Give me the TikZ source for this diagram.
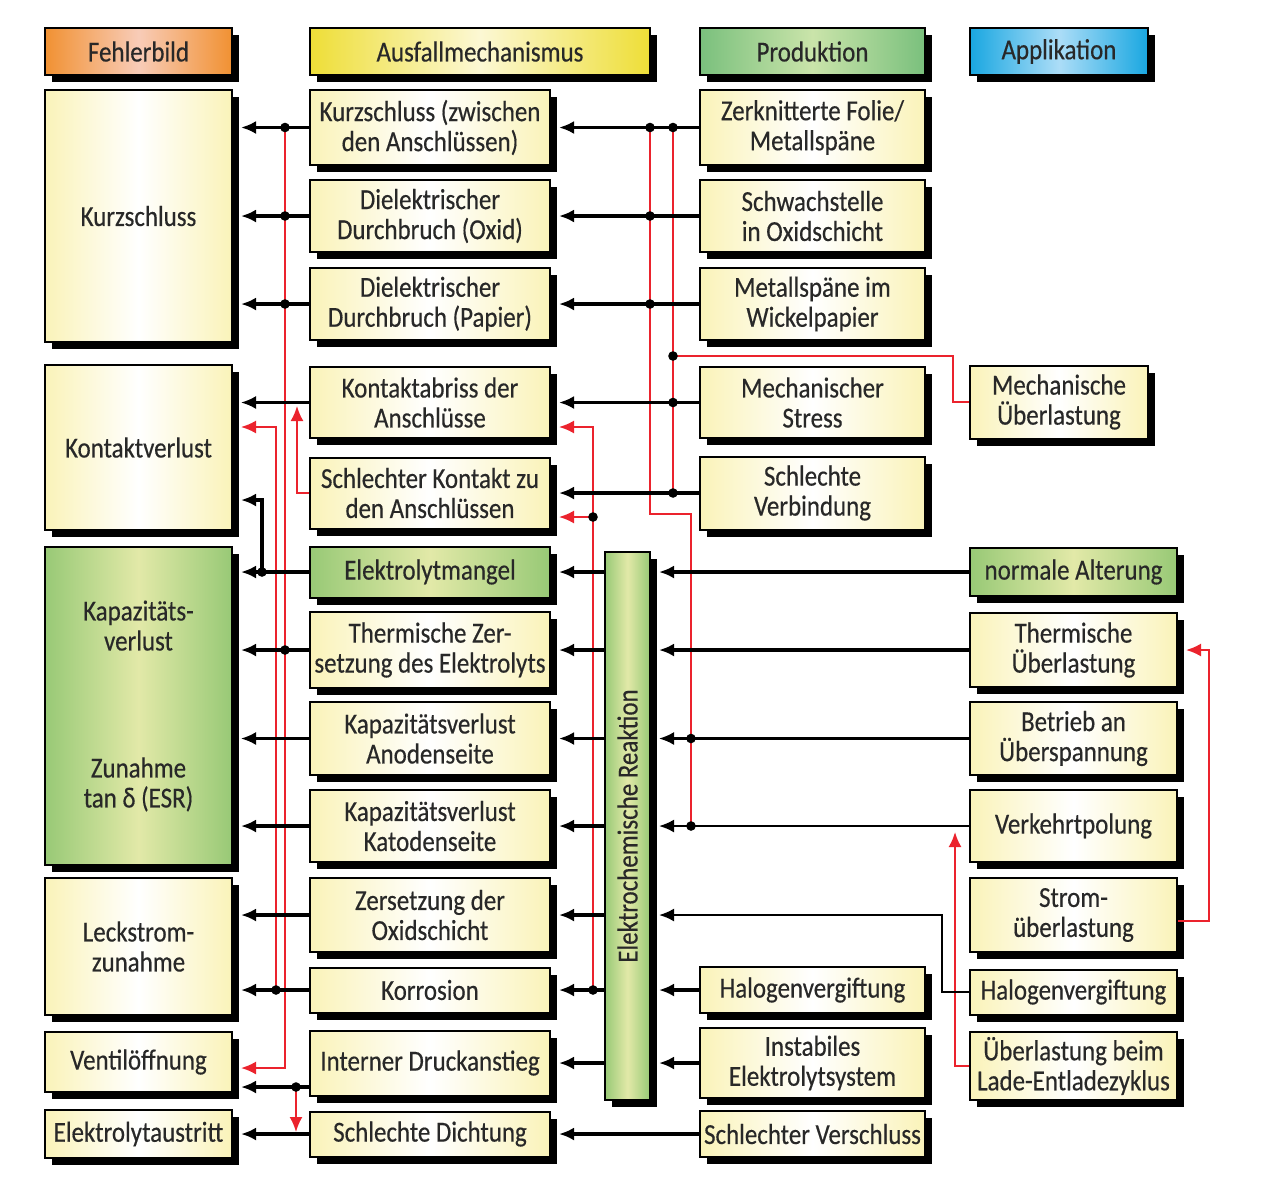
\documentclass[tikz,border=0pt]{standalone}
\usepackage{fontspec}
\setmainfont[FakeStretch=0.86,FakeBold=0.4]{Carlito}
\usetikzlibrary{arrows.meta,shadows,calc}
\definecolor{boxyel}{RGB}{250,243,185}
\definecolor{boxgrn}{RGB}{152,201,118}
\definecolor{boxgrnl}{RGB}{226,233,168}
\definecolor{hdorange}{RGB}{241,145,50}
\definecolor{hdorangel}{RGB}{248,204,184}
\definecolor{hdyel}{RGB}{238,222,55}
\definecolor{hdyell}{RGB}{252,248,212}
\definecolor{hdgrn}{RGB}{122,192,125}
\definecolor{hdgrnl}{RGB}{202,228,170}
\definecolor{hdblue}{RGB}{25,167,225}
\definecolor{hdbluel}{RGB}{172,221,247}
\definecolor{wirered}{RGB}{235,35,45}
\definecolor{txt}{RGB}{40,40,40}
\tikzset{
  box/.style={draw, line width=1pt, align=center, inner sep=1pt, text=txt,
    font=\fontsize{14.5}{15}\selectfont,
    drop shadow={shadow xshift=3.5pt,shadow yshift=-3.5pt,fill=black,opacity=1}},
  ybox/.style={box, left color=boxyel, right color=boxyel, middle color=white},
  gbox/.style={box, left color=boxgrn, right color=boxgrn, middle color=boxgrnl},
  hbox/.style 2 args={box, minimum height=23.5pt, left color=#1, right color=#1, middle color=#2},
  colF/.style={minimum width=93.5pt},
  colM/.style={minimum width=120pt},
  colP/.style={minimum width=112.5pt},
  colA/.style={minimum width=103.5pt},
  blk/.style={line width=1.8pt, -{Latex[length=7.5pt,width=6.5pt]}, shorten >=4pt},
  blkthin/.style={line width=1.1pt, -{Latex[length=7.5pt,width=6.5pt]}, shorten >=4pt},
  wire/.style={wirered, line width=1pt},
  rarr/.style={wire, -{Latex[length=7.5pt,width=6.5pt]}}
}
\begin{document}
\begin{tikzpicture}[x=0.5pt,y=-0.5pt]
\useasboundingbox (0,0) rectangle (1280,1190);
\node[hbox={hdorange}{hdorangel}, colF] (fb) at (138.5,51.5) {Fehlerbild};
\node[hbox={hdyel}{hdyell}, minimum width=170pt] (am) at (480,51.5) {Ausfallmechanismus};
\node[hbox={hdgrn}{hdgrnl}, colP] (pr) at (812.5,51.5) {Produktion};
\node[hbox={hdblue}{hdbluel}, minimum width=89pt] (ap) at (1059,51.5) {Applikation};

\node[ybox, colF, minimum height=126pt] (f1) at (138.5,216) {Kurzschluss};
\node[ybox, colF, minimum height=82.5pt] (f2) at (138.5,447.5) {Kontaktverlust};
\node[gbox, colF, minimum height=159pt] (f3) at (138.5,706) {Kapazitäts-\\verlust\\[48.5pt]Zunahme\\tan δ (ESR)};
\node[ybox, colF, minimum height=68.5pt] (f4) at (138.5,946.5) {Leckstrom-\\zunahme};
\node[ybox, colF, minimum height=30pt] (f5) at (138.5,1062) {Ventilöffnung};
\node[ybox, colF, minimum height=24pt] (f6) at (138.5,1134) {Elektrolytaustritt};

\node[ybox, colM, minimum height=37.5pt] (m1) at (430,127.5) {Kurzschluss (zwischen\\den Anschlüssen)};
\node[ybox, colM, minimum height=36pt] (m2) at (430,216) {Dielektrischer\\Durchbruch (Oxid)};
\node[ybox, colM, minimum height=36pt] (m3) at (430,304) {Dielektrischer\\Durchbruch (Papier)};
\node[ybox, colM, minimum height=35.5pt] (m4) at (430,402.5) {Kontaktabriss der\\Anschlüsse};
\node[ybox, colM, minimum height=35.5pt] (m5) at (430,493) {Schlechter Kontakt zu\\den Anschlüssen};
\node[gbox, colM, minimum height=25.5pt] (m6) at (430,572) {Elektrolytmangel};
\node[ybox, colM, minimum height=38pt] (m7) at (430,650) {Thermische Zer-\\setzung des Elektrolyts};
\node[ybox, colM, minimum height=36.5pt] (m8) at (430,738.5) {Kapazitätsverlust\\Anodenseite};
\node[ybox, colM, minimum height=36pt] (m9) at (430,826) {Kapazitätsverlust\\Katodenseite};
\node[ybox, colM, minimum height=37pt] (m10) at (430,915) {Zersetzung der\\Oxidschicht};
\node[ybox, colM, minimum height=22.5pt] (m11) at (430,990) {Korrosion};
\node[ybox, colM, minimum height=32.5pt] (m12) at (430,1063) {Interner Druckanstieg};
\node[ybox, colM, minimum height=22.5pt] (m13) at (430,1134) {Schlechte Dichtung};

\node[gbox, minimum width=22.5pt, minimum height=274pt] (ec) at (627.5,826) {};
\node[rotate=90, text=txt, font=\fontsize{14.5}{15}\selectfont] (ect) at (ec) {Elektrochemische Reaktion};

\node[ybox, colP, minimum height=37.5pt] (p1) at (812.5,127.5) {Zerknitterte Folie/\\Metallspäne};
\node[ybox, colP, minimum height=36pt] (p2) at (812.5,216) {Schwachstelle\\in Oxidschicht};
\node[ybox, colP, minimum height=36pt] (p3) at (812.5,304) {Metallspäne im\\Wickelpapier};
\node[ybox, colP, minimum height=35.5pt] (p4) at (812.5,402.5) {Mechanischer\\Stress};
\node[ybox, colP, minimum height=36.5pt] (p5) at (812.5,493) {Schlechte\\Verbindung};
\node[ybox, colP, minimum height=23pt] (p6) at (812.5,990) {Halogenvergiftung};
\node[ybox, colP, minimum height=35pt] (p7) at (812.5,1063) {Instabiles\\Elektrolytsystem};
\node[ybox, colP, minimum height=23pt] (p8) at (812.5,1134) {Schlechter Verschluss};

\node[ybox, minimum width=89pt, minimum height=36.5pt] (a1) at (1059,402) {Mechanische\\Überlastung};
\node[gbox, colA, minimum height=24pt] (a2) at (1073.5,572) {normale Alterung};
\node[ybox, colA, minimum height=37pt] (a3) at (1073.5,650) {Thermische\\Überlastung};
\node[ybox, colA, minimum height=36.5pt] (a4) at (1073.5,738.5) {Betrieb an\\Überspannung};
\node[ybox, colA, minimum height=36pt] (a5) at (1073.5,826) {Verkehrtpolung};
\node[ybox, colA, minimum height=37pt] (a6) at (1073.5,915) {Strom-\\überlastung};
\node[ybox, colA, minimum height=22.5pt] (a7) at (1073.5,992) {Halogenvergiftung};
\node[ybox, colA, minimum height=34pt] (a8) at (1073.5,1066) {Überlastung beim\\Lade-Entladezyklus};

\coordinate (bA) at (276,0);
\coordinate (bB) at (285,0);
\coordinate (bE) at (593,0);
\coordinate (bF) at (650,0);
\coordinate (bG) at (673,0);
\coordinate (bH) at (691,0);
\coordinate (bI) at (942,0);
\coordinate (bK) at (1209,0);
\coordinate (kv) at (285,1068);
\coordinate (kk) at (276,427);
\coordinate (ks) at (297,406);
\coordinate (ke) at (593,427);
\coordinate (kf) at (593,517);
\coordinate (kg) at (650,514);
\coordinate (kh) at (691,514);
\coordinate (ki) at (673,356);
\coordinate (kj) at (953,356);
\coordinate (kl) at (955,832);
\coordinate (kd) at (296,1087);
\coordinate (jD) at (262,572);
\coordinate (kD) at (262,500);
\coordinate (ka) at ($(a6.east)+(0,6)$);

\draw[rarr, shorten >=4pt] (bB |- m1) -- (kv) -- (kv -| f5.east);
\draw[rarr, shorten >=4pt] (bA |- m11) -- (kk) -- (kk -| f2.east);
\draw[rarr] (m5) -| (ks);
\draw[rarr, shorten >=4pt] (bE |- m11) -- (ke) -- (ke -| m4.east);
\draw[rarr, shorten >=4pt] (kf) -- (kf -| m5.east);
\draw[wire] (bF |- m1) -- (kg) -- (kh) -- (bH |- a5);
\draw[wire] (bG |- m1) -- (bG |- m5);
\draw[wire] (ki) -- (kj) -- (kj |- a1) -- (a1);
\draw[rarr, shorten >=4pt] (ka) -- (ka -| bK) -- (bK |- a3) -- (a3);
\draw[rarr] (a8) -| (kl);
\draw[rarr, shorten >=1pt] (kd) -- (kd |- m13);

\draw[blk] (p1) -- (m1);
\draw[blk] (p2) -- (m2);
\draw[blk] (p3) -- (m3);
\draw[blk] (p4) -- (m4);
\draw[blk] (p5) -- (m5);
\draw[blk] (p8) -- (m13);
\draw[blk] (m1) -- (m1 -| f1.east);
\draw[blk] (m2) -- (m2 -| f1.east);
\draw[blk] (m3) -- (m3 -| f1.east);
\draw[blkthin] (m4) -- (m4 -| f2.east);
\draw[blk] (m6) -- (m6 -| f3.east);
\draw[blk] (jD) -- (kD) -- (kD -| f2.east);
\draw[blk] (m7) -- (m7 -| f3.east);
\draw[blkthin] (m8) -- (m8 -| f3.east);
\draw[blk] (m9) -- (m9 -| f3.east);
\draw[blk] (m10) -- (m10 -| f4.east);
\draw[blk] (m11) -- (m11 -| f4.east);
\draw[blk] (kd -| m12.west) -- (kd -| f5.east);
\draw[blk] (m13) -- (f6);
\foreach \m in {m6,m7,m8,m9,m10,m11,m12}
  \draw[blk] (ec.west |- \m) -- (\m);
\draw[blk] (a2) -- (a2 -| ec.east);
\draw[blk] (a3) -- (a3 -| ec.east);
\draw[blkthin] (a4) -- (a4 -| ec.east);
\draw[blkthin] (a5) -- (a5 -| ec.east);
\draw[blkthin] (a7) -- (a7 -| bI) -- (bI |- m10) -- (m10 -| ec.east);
\draw[blk] (p6) -- (p6 -| ec.east);
\draw[blk] (p7) -- (p7 -| ec.east);

\foreach \p in {bB |- m1, bB |- m2, bB |- m3, bB |- m7, jD, bA |- m11, kd, bE |- m11, kf,
  bF |- m1, bF |- m2, bF |- m3, bG |- m1, ki, bG |- m4, bG |- m5, bH |- a4, bH |- a5}
  \fill (\p) circle (2.4pt);
\end{tikzpicture}
\end{document}
